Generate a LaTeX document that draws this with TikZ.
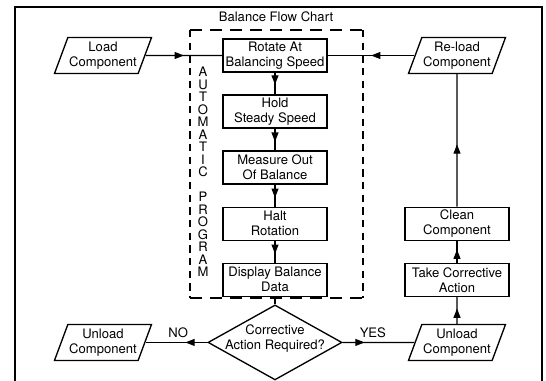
\documentclass[tikz,border=0pt]{standalone}
\usepackage{fontspec}
\setmainfont{TeX Gyre Heros}
\usetikzlibrary{arrows.meta, positioning, shapes.geometric, decorations.markings}

\begin{document}
\begin{tikzpicture}[
    x=0.75pt, y=-0.75pt,
    font=\fontsize{9.8pt}{11.25pt}\selectfont,
    line width=0.9pt,
    node distance=16.3pt,
    box/.style={draw, line width=1pt, minimum width=78pt, minimum height=24.75pt, inner sep=1pt, align=center},
    io/.style={draw, line width=1pt, trapezium, trapezium left angle=66, trapezium right angle=114,
      trapezium stretches body=true, minimum width=70.5pt, minimum height=27pt, inner sep=1pt, align=center},
    decision/.style={draw, line width=1pt, diamond, aspect=1.79, minimum width=100.5pt, minimum height=56.25pt, inner sep=0pt},
    midarrow/.style={postaction={decorate}, decoration={markings,
      mark=at position #1 with {\arrow{Triangle[length=7pt, width=5.2pt]}}}},
    midarrow/.default=0.6,
  ]
  \useasboundingbox (0,0) rectangle (546,381);
  % Frame and title
  \draw (15,381) -- (15,7) -- (542,7) -- (542,381);
  \node (title) at (276,17) {Balance Flow Chart};
  % Automatic program
  \draw[dash pattern=on 9pt off 6pt] (190,30) -- (363,30) (190,298) -- (363,298);
  \draw[dash pattern=on 5.5pt off 4pt] (190,30) -- (190,298) (363,30) -- (363,298);
  \foreach \ch [count=\i] in {A,U,T,O,M,A,T,I,C,{},P,R,O,G,R,A,M}
    \node[inner sep=0pt] (prog\i) at (203,{59.5+12.5*\i}) {\ch};
  % Main column
  \node[box] (rotate) at (275,55.5) {Rotate At\\Balancing Speed};
  \node[box, below=of rotate] (hold) {Hold\\Steady Speed};
  \node[box, below=of hold] (measure) {Measure Out\\Of Balance};
  \node[box, below=of measure] (halt) {Halt\\Rotation};
  \node[box, below=of halt] (display) {Display Balance\\Data};
  \node[decision, below=5.5pt of display] (check) {};
  \node[align=center] (checktext) at ([yshift=3pt]check.center) {Corrective\\Action Required?};
  % Side nodes
  \node[io] (load) at (103,55.5) {Load\\Component};
  \node[io] (reload) at (457,55.5) {Re-load\\Component};
  \node[box] (clean) at (halt -| reload) {Clean\\Component};
  \node[box] (take) at (display -| reload) {Take Corrective\\Action};
  \node[io] (unloadL) at (check -| load) {Unload\\Component};
  \node[io] (unloadR) at (check -| reload) {Unload\\Component};
  % Connectors
  \draw[midarrow=0.5] (load) -- (rotate);
  \draw[midarrow=0.5] (reload) -- (rotate);
  \draw[midarrow=0.55] (rotate) -- (hold);
  \draw[midarrow] (hold) -- (measure);
  \draw[midarrow] (measure) -- (halt);
  \draw[midarrow] (halt) -- (display);
  \draw (display) -- (check);
  \draw[midarrow=16.5pt] (check) -- node[above, pos=0.47] (no) {NO} (unloadL);
  \draw[midarrow=16.5pt] (check) -- node[above, pos=0.42] (yes) {YES} (unloadR);
  \draw[midarrow=0.57] (unloadR) -- (take);
  \draw[midarrow] (take) -- (clean);
  \draw[midarrow=0.47] (clean) -- (reload);
\end{tikzpicture}
\end{document}
